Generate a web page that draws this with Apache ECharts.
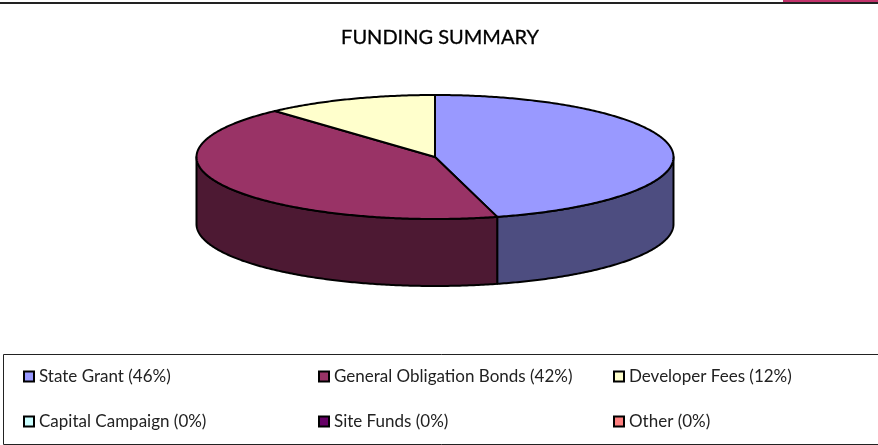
<!DOCTYPE html>
<html lang="en">

<head>
  <meta charset="UTF-8">
  <title>Funding Summary</title>
  <script src="https://cdn.jsdelivr.net/npm/echarts@6/dist/echarts.min.js"></script>
  <style>
    * {
      padding: 0;
      margin: 0;
    }

    #box {
      width: 878px;
      height: 445px;
    }
  </style>
</head>

<body>
  <div id="box"></div>
  <script>
    var categories = ['State Grant', 'General Obligation Bonds', 'Developer Fees', 'Capital Campaign', 'Site Funds', 'Other']
    var values = [45.8, 42.49, 11.71, 0, 0, 0]
    var topColors = ['#9999FF', '#993366', '#FFFFCC', '#CCFFFF', '#660066', '#FF8080']
    var wallColors = ['#4D4D80', '#4D1933', '#808066', '#668080', '#330033', '#804040']

    var cx = 435, cy = 157, rx = 238.5, ry = 62, depth = 67
    var fontName = 'Lato'
    var total = values.reduce(function (a, b) { return a + b }, 0)

    // angle is clockwise from 12 o'clock
    function rim(a, drop) {
      return [cx + rx * Math.sin(a), cy - ry * Math.cos(a) + (drop || 0)]
    }

    function arcPoints(from, to, drop) {
      var pts = []
      var n = Math.max(2, Math.ceil((to - from) / 0.01))
      for (var i = 0; i <= n; i++) {
        pts.push(rim(from + (to - from) * i / n, drop))
      }
      return pts
    }

    function sliceItem(index, api) {
      var val = values[index]
      if (!val) return null
      var before = 0
      for (var i = 0; i < index; i++) before += values[i]
      var a0 = before / total * Math.PI * 2
      var a1 = (before + val) / total * Math.PI * 2
      var line = { stroke: '#000', lineWidth: 2, lineJoin: 'round' }
      var children = []

      // front wall only between 3 and 9 o'clock
      var w0 = Math.max(a0, Math.PI / 2)
      var w1 = Math.min(a1, Math.PI * 1.5)
      if (w1 > w0) {
        var wall = arcPoints(w0, w1, 0).concat(arcPoints(w0, w1, depth).reverse())
        children.push({
          type: 'polygon',
          shape: { points: wall },
          style: Object.assign({ fill: wallColors[index] }, line)
        })
      }

      var top = [[cx, cy]].concat(arcPoints(a0, a1, 0))
      children.push({
        type: 'polygon',
        shape: { points: top },
        style: Object.assign({ fill: topColors[index] }, line)
      })
      return { type: 'group', children: children }
    }

    var legendLeft = [23, 318, 613]
    var legendTop = [368, 413]

    var mCharts = echarts.init(document.getElementById('box'))
    var option = {
      animation: false,
      title: {
        text: 'FUNDING SUMMARY',
        left: 440,
        top: 28,
        textAlign: 'center',
        padding: 0,
        textStyle: {
          fontFamily: fontName,
          fontSize: 20,
          fontWeight: 'normal',
          color: '#000',
          textBorderColor: '#000',
          textBorderWidth: 0.3
        }
      },
      legend: categories.map(function (name, i) {
        return {
          data: [name],
          left: legendLeft[i % 3],
          top: legendTop[Math.floor(i / 3)],
          padding: 0,
          icon: 'rect',
          itemWidth: 10,
          itemHeight: 10,
          selectedMode: false,
          itemStyle: { borderColor: '#000', borderWidth: 2 },
          textStyle: { fontFamily: fontName, fontSize: 17, color: '#222' },
          formatter: function (n) {
            return n + ' (' + Math.round(values[i] / total * 100) + '%)'
          }
        }
      }),
      graphic: [
        { type: 'rect', silent: true, shape: { x: 783, y: 0, width: 95, height: 2 }, style: { fill: '#C2336B' } },
        { type: 'rect', silent: true, shape: { x: 0, y: 2, width: 878, height: 2 }, style: { fill: '#222' } },
        { type: 'rect', silent: true, shape: { x: 3.5, y: 354.5, width: 880, height: 90 }, style: { fill: 'none', stroke: '#222', lineWidth: 1 } }
      ],
      series: categories.map(function (name, i) {
        return {
          type: 'custom',
          name: name,
          coordinateSystem: 'none',
          silent: true,
          itemStyle: { color: topColors[i] },
          data: [values[i]],
          renderItem: function (params, api) {
            return sliceItem(i, api)
          }
        }
      })
    }
    mCharts.setOption(option)
  </script>
</body>

</html>
